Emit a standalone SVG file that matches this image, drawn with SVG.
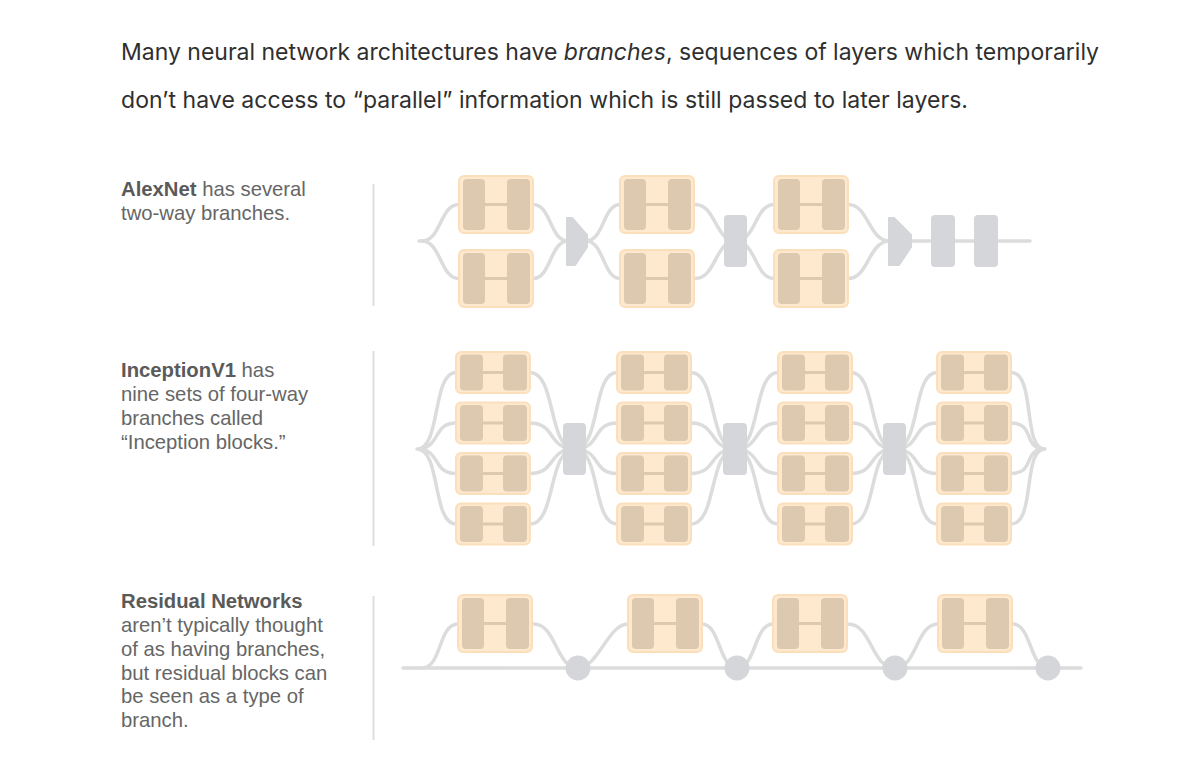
<svg xmlns="http://www.w3.org/2000/svg" xmlns:xlink="http://www.w3.org/1999/xlink" width="1200" height="762" viewBox="0 0 1200 762">
<style>
.intro{font-family:Inter,"Noto Sans","Liberation Sans",sans-serif;font-size:23px;fill:#2f2f2f}
.lbl{font-family:"Liberation Sans",Arial,sans-serif;font-size:20.3px;fill:#666}
.b{font-weight:bold;fill:#5a5a5a}
.sep{stroke:#dedede;stroke-width:2}
.c{fill:none;stroke:#dcdcdc;stroke-width:3.5;stroke-linecap:round}
.outer{fill:#fee9cf;stroke:#fbdfbb;stroke-width:2}
.inner{fill:#ddc9af}
.bar{stroke:#ddc9af;stroke-width:3}
.gray{fill:#d5d6da}
.pool{fill:#d5d6da;stroke:#d5d6da;stroke-width:2;stroke-linejoin:round}
</style>
<defs>
<g id="blockTall">
<rect class="outer" x="0" y="0" width="74" height="57" rx="5"/>
<line class="bar" x1="25" y1="28.5" x2="49" y2="28.5"/>
<rect class="inner" x="4" y="3" width="22" height="51" rx="4"/>
<rect class="inner" x="48" y="3" width="23" height="51" rx="4"/>
</g>
<g id="blockShort">
<rect class="outer" x="0" y="0" width="74" height="41" rx="5"/>
<line class="bar" x1="26" y1="20.5" x2="48" y2="20.5"/>
<rect class="inner" x="4" y="2.5" width="23" height="36" rx="4"/>
<rect class="inner" x="47" y="2.5" width="24" height="36" rx="4"/>
</g>
</defs>
<rect width="1200" height="762" fill="#ffffff"/>

<g id="intro">
<text class="intro" x="121" y="60" textLength="978" lengthAdjust="spacing">Many neural network architectures have <tspan font-style="italic">branches</tspan>, sequences of layers which temporarily</text>
<text class="intro" x="121" y="108" textLength="847" lengthAdjust="spacing">don’t have access to “parallel” information which is still passed to later layers.</text>
</g>

<g id="labels">
<text class="lbl" x="121" y="196"><tspan class="b">AlexNet</tspan> has several</text>
<text class="lbl" x="121" y="220">two-way branches.</text>
<text class="lbl" x="121" y="377"><tspan class="b">InceptionV1</tspan> has</text>
<text class="lbl" x="121" y="401">nine sets of four-way</text>
<text class="lbl" x="121" y="425">branches called</text>
<text class="lbl" x="121" y="449">“Inception blocks.”</text>
<text class="lbl" x="121" y="608"><tspan class="b">Residual Networks</tspan></text>
<text class="lbl" x="121" y="632">aren’t typically thought</text>
<text class="lbl" x="121" y="656">of as having branches,</text>
<text class="lbl" x="121" y="680">but residual blocks can</text>
<text class="lbl" x="121" y="703">be seen as a type of</text>
<text class="lbl" x="121" y="727">branch.</text>
</g>

<g id="separators">
<line class="sep" x1="373.5" y1="184" x2="373.5" y2="306"/>
<line class="sep" x1="373.5" y1="351" x2="373.5" y2="546"/>
<line class="sep" x1="373.5" y1="596" x2="373.5" y2="740"/>
</g>

<g id="connectors">
<!-- AlexNet -->
<path class="c" d="M419,241 L422,241 C441,241 440,204.5 459,204.5"/>
<path class="c" d="M422,241 C441,241 440,278.5 459,278.5"/>
<path class="c" d="M533,204.5 C551,204.5 550,241 568,241"/>
<path class="c" d="M533,278.5 C551,278.5 550,241 568,241"/>
<path class="c" d="M586,241 C604,241 603,204.5 620,204.5"/>
<path class="c" d="M586,241 C604,241 603,278.5 620,278.5"/>
<path class="c" d="M695,204.5 C716,204.5 715,241 735.5,241 C756,241 755,204.5 774,204.5"/>
<path class="c" d="M695,278.5 C716,278.5 715,241 735.5,241 C756,241 755,278.5 774,278.5"/>
<path class="c" d="M848,204.5 C869,204.5 868,241 890,241"/>
<path class="c" d="M848,278.5 C869,278.5 868,241 890,241"/>
<path class="c" d="M910,241 L1030,241"/>
<!-- InceptionV1 -->
<path class="c" d="M417,449 C441,449 432,372.5 456,372.5 M417,449 C441,449 432,423 456,423 M417,449 C441,449 432,473.5 456,473.5 M417,449 C441,449 432,524 456,524"/>
<path class="c" d="M530,372.5 C556,372.5 548,449 574.5,449 C601,449 592,372.5 617,372.5"/>
<path class="c" d="M530,423 C556,423 548,449 574.5,449 C601,449 592,423 617,423"/>
<path class="c" d="M530,473.5 C556,473.5 548,449 574.5,449 C601,449 592,473.5 617,473.5"/>
<path class="c" d="M530,524 C556,524 548,449 574.5,449 C601,449 592,524 617,524"/>
<path class="c" d="M691,372.5 C717,372.5 709,449 735,449 C761,449 753,372.5 778,372.5"/>
<path class="c" d="M691,423 C717,423 709,449 735,449 C761,449 753,423 778,423"/>
<path class="c" d="M691,473.5 C717,473.5 709,449 735,449 C761,449 753,473.5 778,473.5"/>
<path class="c" d="M691,524 C717,524 709,449 735,449 C761,449 753,524 778,524"/>
<path class="c" d="M851,372.5 C877,372.5 868,449 894.5,449 C921,449 912,372.5 937,372.5"/>
<path class="c" d="M851,423 C877,423 868,449 894.5,449 C921,449 912,423 937,423"/>
<path class="c" d="M851,473.5 C877,473.5 868,449 894.5,449 C921,449 912,473.5 937,473.5"/>
<path class="c" d="M851,524 C877,524 868,449 894.5,449 C921,449 912,524 937,524"/>
<path class="c" d="M1011,372.5 C1036,372.5 1022,449 1045,449 M1011,423 C1036,423 1022,449 1045,449 M1011,473.5 C1036,473.5 1022,449 1045,449 M1011,524 C1036,524 1022,449 1045,449"/>
<!-- ResNet -->
<path class="c" d="M403,668 L1081,668"/>
<path class="c" d="M422,668 C442,668 438,624 458,624"/>
<path class="c" d="M534,624 C556,624 556,668 578,668 C598,668 608,624 628,624"/>
<path class="c" d="M702,624 C720,624 719,668 737,668 C756,668 754,624 773,624"/>
<path class="c" d="M848,624 C872,624 871,668 895,668 C917,668 916,624 938,624"/>
<path class="c" d="M1013,624 C1031,624 1030,668 1048,668"/>
</g>

<g id="alexnet">
<g id="alex-b1-top" transform="translate(459,176)"><use xlink:href="#blockTall"/></g>
<g id="alex-b1-bot" transform="translate(459,250)"><use xlink:href="#blockTall"/></g>
<g id="alex-pool1"><path class="pool" d="M567,218 L572,218 L587,235 L587,247 L575,265 L567,265 Z"/></g>
<g id="alex-b2-top" transform="translate(620,176)"><use xlink:href="#blockTall"/></g>
<g id="alex-b2-bot" transform="translate(620,250)"><use xlink:href="#blockTall"/></g>
<g id="alex-conv1"><rect class="gray" x="724" y="215" width="23" height="52" rx="4"/></g>
<g id="alex-b3-top" transform="translate(774,176)"><use xlink:href="#blockTall"/></g>
<g id="alex-b3-bot" transform="translate(774,250)"><use xlink:href="#blockTall"/></g>
<g id="alex-pool2"><path class="pool" d="M889,218 L894,218 L911,235 L911,247 L899,265 L889,265 Z"/></g>
<g id="alex-fc1"><rect class="gray" x="931" y="215" width="24" height="52" rx="4"/></g>
<g id="alex-fc2"><rect class="gray" x="974" y="215" width="24" height="52" rx="4"/></g>
</g>

<g id="inception">
<g id="inc-b1-1" transform="translate(456,352)"><use xlink:href="#blockShort"/></g>
<g id="inc-b1-2" transform="translate(456,402.5)"><use xlink:href="#blockShort"/></g>
<g id="inc-b1-3" transform="translate(456,453)"><use xlink:href="#blockShort"/></g>
<g id="inc-b1-4" transform="translate(456,503.5)"><use xlink:href="#blockShort"/></g>
<g id="inc-g1"><rect class="gray" x="563" y="423" width="23" height="52" rx="4"/></g>
<g id="inc-b2-1" transform="translate(617,352)"><use xlink:href="#blockShort"/></g>
<g id="inc-b2-2" transform="translate(617,402.5)"><use xlink:href="#blockShort"/></g>
<g id="inc-b2-3" transform="translate(617,453)"><use xlink:href="#blockShort"/></g>
<g id="inc-b2-4" transform="translate(617,503.5)"><use xlink:href="#blockShort"/></g>
<g id="inc-g2"><rect class="gray" x="723" y="423" width="24" height="52" rx="4"/></g>
<g id="inc-b3-1" transform="translate(778,352)"><use xlink:href="#blockShort"/></g>
<g id="inc-b3-2" transform="translate(778,402.5)"><use xlink:href="#blockShort"/></g>
<g id="inc-b3-3" transform="translate(778,453)"><use xlink:href="#blockShort"/></g>
<g id="inc-b3-4" transform="translate(778,503.5)"><use xlink:href="#blockShort"/></g>
<g id="inc-g3"><rect class="gray" x="883" y="423" width="23" height="52" rx="4"/></g>
<g id="inc-b4-1" transform="translate(937,352)"><use xlink:href="#blockShort"/></g>
<g id="inc-b4-2" transform="translate(937,402.5)"><use xlink:href="#blockShort"/></g>
<g id="inc-b4-3" transform="translate(937,453)"><use xlink:href="#blockShort"/></g>
<g id="inc-b4-4" transform="translate(937,503.5)"><use xlink:href="#blockShort"/></g>
</g>

<g id="resnet">
<g id="res-b1" transform="translate(458,595)"><use xlink:href="#blockTall"/></g>
<g id="res-add1"><circle class="gray" cx="578" cy="668" r="12.5"/></g>
<g id="res-b2" transform="translate(628,595)"><use xlink:href="#blockTall"/></g>
<g id="res-add2"><circle class="gray" cx="737" cy="668" r="12.5"/></g>
<g id="res-b3" transform="translate(773,595)"><use xlink:href="#blockTall"/></g>
<g id="res-add3"><circle class="gray" cx="895" cy="668" r="12.5"/></g>
<g id="res-b4" transform="translate(938,595)"><use xlink:href="#blockTall"/></g>
<g id="res-add4"><circle class="gray" cx="1048" cy="668" r="12.5"/></g>
</g>
</svg>
